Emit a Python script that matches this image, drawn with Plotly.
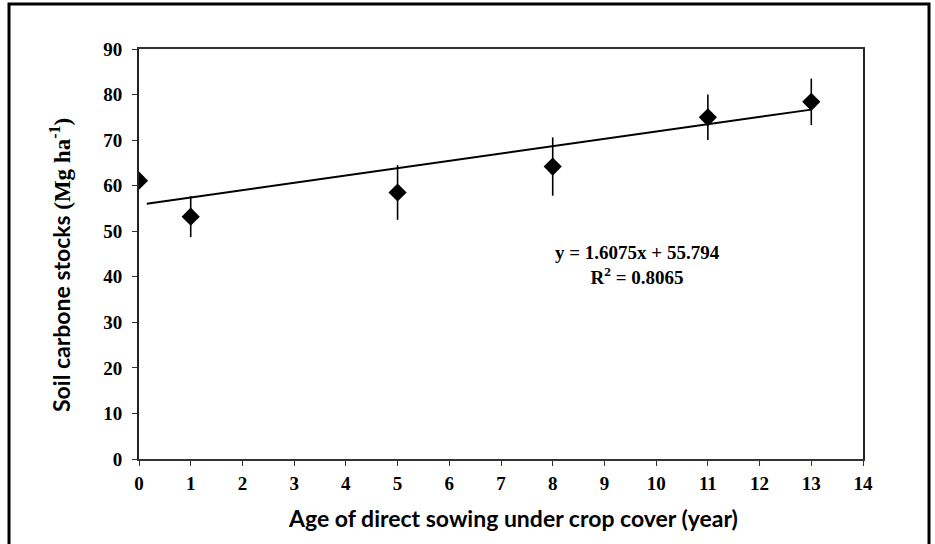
import plotly.graph_objects as go

# ---- data ----
age_years = [0, 1, 5, 8, 11, 13]
carbon_stock = [61.1, 53.2, 58.5, 64.2, 75.0, 78.4]
carbon_err = [0.0, 4.5, 6.0, 6.4, 5.0, 5.1]

trend_slope = 1.6075
trend_intercept = 55.794
trend_x = [0.15, 13]
trend_y = [trend_slope * x + trend_intercept for x in trend_x]

x_ticks = list(range(0, 15))
y_ticks = list(range(0, 91, 10))

equation_text = "y = 1.6075x + 55.794<br>R<sup>2</sup> = 0.8065"
x_title = "Age of direct sowing under crop cover (year)"
y_title = ("Soil carbone stocks <span style='font-family:\"Liberation Serif\"'>"
           "(Mg ha<sup>-1</sup>)</span>")

# ---- layout geometry (pixels) ----
W, H = 935, 544
L, R, T, B = 139, 863, 49, 459
pw, ph = R - L, B - T


def px_x(p):
    return (p - L) / pw


def px_y(p):
    return (B - p) / ph


fig = go.Figure()

fig.add_trace(go.Scatter(
    x=trend_x, y=trend_y, mode="lines",
    line=dict(color="black", width=2),
    showlegend=False, hoverinfo="skip",
))

fig.add_trace(go.Scatter(
    x=age_years, y=carbon_stock, mode="markers",
    marker=dict(symbol="diamond", size=14, color="black"),
    error_y=dict(type="data", array=carbon_err, visible=True,
                 color="black", thickness=1.6, width=0),
    showlegend=False,
))

tick_font = dict(family="Liberation Serif", size=19, color="black",
                 weight="bold")

fig.update_xaxes(
    range=[0, 14], tickvals=x_ticks, ticktext=[str(v) for v in x_ticks],
    showgrid=False, zeroline=False,
    showline=True, linecolor="#333", linewidth=1.6, mirror=True,
    ticks="outside", ticklen=5, tickcolor="#333", tickwidth=1.3,
    tickfont=tick_font, ticklabelstandoff=1,
)
fig.update_yaxes(
    range=[0, 90], tickvals=y_ticks, ticktext=[str(v) for v in y_ticks],
    showgrid=False, zeroline=False,
    showline=True, linecolor="#222", linewidth=1.8, mirror=True,
    ticks="outside", ticklen=5, tickcolor="#333", tickwidth=1.3,
    tickfont=tick_font, ticklabelstandoff=6,
)

fig.add_annotation(
    x=px_x(637), y=px_y(265), xref="paper", yref="paper",
    xanchor="center", yanchor="middle",
    text=equation_text, showarrow=False, align="center",
    font=dict(family="Liberation Serif", size=19, color="black",
              weight="bold"),
)

fig.add_annotation(
    x=px_x(513), y=px_y(518), xref="paper", yref="paper",
    xanchor="center", yanchor="middle",
    text=x_title, showarrow=False,
    font=dict(family="Lato", size=23, color="black", weight="bold"),
)

fig.add_annotation(
    x=px_x(60), y=px_y(265), xref="paper", yref="paper",
    xanchor="center", yanchor="middle",
    text=y_title, showarrow=False, textangle=-90,
    font=dict(family="Lato", size=23, color="black", weight="bold"),
)

# outer frame of the picture
fig.add_shape(
    type="rect", xref="paper", yref="paper",
    x0=px_x(9), x1=px_x(929), y0=px_y(560), y1=px_y(4),
    line=dict(color="black", width=3), fillcolor="rgba(0,0,0,0)",
    layer="above",
)

fig.update_layout(
    width=W, height=H,
    margin=dict(l=L, r=W - R, t=T, b=H - B, pad=0),
    paper_bgcolor="white", plot_bgcolor="white",
    font=dict(family="Liberation Serif", color="black"),
)

fig.write_html("out.html",
               config={"displayModeBar": False},
               post_script="document.body.style.margin='0px';")
